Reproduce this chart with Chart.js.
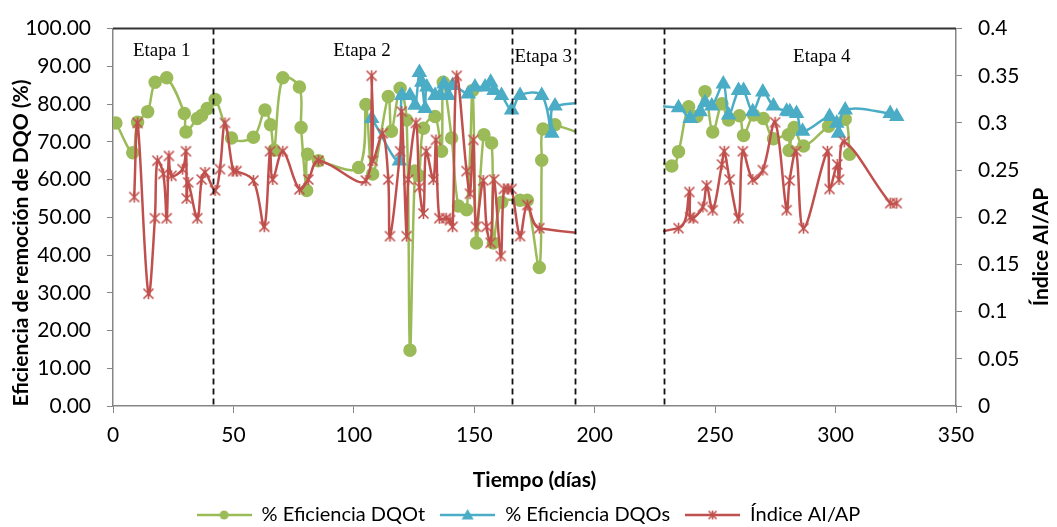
<!DOCTYPE html>
<html>
<head>
<meta charset="utf-8">
<script src="https://cdn.jsdelivr.net/npm/chart.js@4.4.1/dist/chart.umd.min.js"></script>
<style>
html, body { margin: 0; padding: 0; background: #fff; }
#wrap { width: 1057px; height: 527px; }
</style>
</head>
<body>
<div id="wrap"><canvas id="grafico" width="1057" height="527"></canvas></div>
<script>
// % Eficiencia DQOt (eje izquierdo)
var dqotDias = [1.2, 8.2, 10.2, 14.4, 17.5, 22.3, 29.6, 30.3, 35, 36.8, 39.1, 42.4, 49.2, 58.3, 63.1, 65.4, 66.9,
    70.5, 77.4, 78.1, 80.4, 80.8, 85.3, 102, 105, 107.8, 114.3, 115.6, 119.2, 121.9, 123.3, 125.4, 127, 128.9,
    133.7, 136.4, 137.1, 140.6, 143.4, 146.8, 149.3, 150.9, 154, 157.2, 157.9, 161.4, 169, 172, 177, 178, 178.5, 183.5,
    232, 234.8, 239, 242.4, 245.8, 249, 252.8, 255.6, 260.1, 261.8, 266, 270, 274.2, 280.4, 280.7, 282.8, 286.7,
    297.1, 304, 305.8];
var dqotVals = [75, 67.1, 75.2, 78, 85.8, 87, 77.5, 72.6, 76.2, 77, 78.8, 81.2, 71, 71.2, 78.4, 74.5, 67.8,
    87, 84.5, 73.8, 57.1, 66.7, 65, 63.2, 79.9, 61.5, 82, 72.8, 84.2, 75.8, 14.8, 62.3, 61, 73.6,
    76.7, 67.5, 85.8, 71, 53, 52, 83.6, 43.2, 71.9, 69.7, 43.2, 54, 54.5, 54.5, 36.7, 65.1, 73.4, 74.5,
    63.6, 67.4, 79.3, 76.7, 83.3, 72.6, 80.1, 75.8, 76.9, 71.7, 77.1, 76.2, 70.8, 71.9, 67.7, 73.8, 68.9,
    74.1, 76, 66.7];

// % Eficiencia DQOs (eje izquierdo)
var dqosDias = [107.4, 118.9, 119.9, 123.3, 125.4, 127.2, 128.2, 129.6, 130.3, 133.7, 135.8, 137.4, 139.2, 141,
    147.5, 150.3, 154.5, 156.8, 158.2, 161.3, 165.5, 169, 178, 182.2, 183.5,
    234.8, 239.6, 243.8, 245.8, 248.6, 253.4, 255.6, 259.7, 261.8, 265.6, 269.8, 274.2, 279.7, 281, 283.8, 286.3,
    297.5, 300.5, 301.2, 304, 322.7, 325.4];
var dqosVals = [76.2, 64.9, 82.3, 82.3, 79.7, 88.4, 85.8, 78.8, 84.5, 82.3, 82.3, 85.3, 82.3, 84.9,
    82.7, 84.5, 84.5, 85.8, 83.6, 82.3, 78.4, 82.3, 82.3, 72.3, 79.5,
    79, 76.2, 78, 80.4, 79.5, 85.3, 77.1, 83.6, 83.6, 78, 83.2, 79.5, 78.1, 78, 77.5, 72.8,
    76.7, 74.9, 72.3, 78.4, 77.5, 76.7];

// Indice AI/AP (eje derecho)
var aiapDias = [8.8, 10.2, 14.7, 17.4, 18.4, 20.9, 22.3, 23.2, 24.3, 28.9, 30.3, 30.6, 31.2, 35, 36.8, 38.2, 42.4,
    44.4, 46.5, 49.9, 51.3, 58.3, 62.8, 65.2, 66.3, 70.5, 77.4, 81.1, 85.3,
    105, 107.4, 107.8, 112, 114.3, 115, 119.2, 119.9, 121.9, 122.6, 125.8, 127.2, 128.9, 130, 133, 134.1, 135.5,
    138.3, 139.9, 141, 142.7, 146.8, 148.2, 149.6, 150.7, 153.7, 155.1, 156.8, 158.2, 161, 162.3, 164.1, 165.5,
    169, 172, 177,
    234.8, 239.3, 239.6, 240.9, 244.9, 246.5, 249, 252.8, 253.8, 256, 259.7, 261.5, 265.6, 269.8, 274.9,
    279.7, 280.9, 283.6, 286.7, 296.6, 297.5, 300.7, 301.4, 303.6, 322.7, 325.4];
var aiapVals = [0.2215, 0.30, 0.119, 0.199, 0.26, 0.246, 0.199, 0.265, 0.244, 0.251, 0.27, 0.22, 0.237, 0.199, 0.24, 0.2476, 0.2285,
    0.251, 0.30, 0.249, 0.249, 0.239, 0.19, 0.27, 0.24, 0.27, 0.2296, 0.24, 0.26,
    0.239, 0.35, 0.26, 0.289, 0.24, 0.18, 0.27, 0.312, 0.18, 0.24, 0.30, 0.232, 0.204, 0.27, 0.24, 0.282, 0.199,
    0.199, 0.197, 0.19, 0.35, 0.249, 0.225, 0.282, 0.19, 0.239, 0.19, 0.173, 0.24, 0.159, 0.23, 0.23, 0.23,
    0.18, 0.213, 0.1885,
    0.1885, 0.2268, 0.20, 0.199, 0.211, 0.2336, 0.2076, 0.256, 0.27, 0.24, 0.199, 0.27, 0.24, 0.25, 0.3007,
    0.2076, 0.239, 0.27, 0.1885, 0.27, 0.23, 0.256, 0.24, 0.28, 0.215, 0.215];

// limites de etapas (dias) y rotulos
var etapaLimites = [41.5, 165.7, 191.9, 228.8];
var etapaNombres = ["Etapa 1", "Etapa 2", "Etapa 3", "Etapa 4"];
var etapaPosX = [20.2, 103.4, 178.6, 294.3];
var etapaPosY = [94, 94, 92.5, 92.5];

var verde = "#9BBB59", azul = "#4BACC6", rojo = "#C0504D";
var fuente = "Lato";
var gris = "#868686";

function puntos(dias, vals) {
    var out = [];
    for (var i = 0; i < dias.length; i++) out.push({x: dias[i], y: vals[i]});
    return out;
}

// marcador asterisco de Excel (x con barra vertical)
function asterisco(tam, color) {
    var c = document.createElement("canvas");
    c.width = tam; c.height = tam;
    var g = c.getContext("2d");
    g.strokeStyle = color; g.lineWidth = 1.6;
    var m = 1.5, t = tam - 1.5;
    g.beginPath();
    g.moveTo(m, m); g.lineTo(t, t);
    g.moveTo(t, m); g.lineTo(m, t);
    g.moveTo(tam / 2, m - 0.5); g.lineTo(tam / 2, t + 0.5);
    g.stroke();
    return c;
}

function iconoLeyenda(color, tipo) {
    var c = document.createElement("canvas");
    c.width = 55; c.height = 16;
    var g = c.getContext("2d");
    g.strokeStyle = color; g.fillStyle = color; g.lineWidth = 2.5;
    g.beginPath(); g.moveTo(0, 8); g.lineTo(55, 8); g.stroke();
    if (tipo === "circulo") {
        g.beginPath(); g.arc(27.5, 8, 4.5, 0, Math.PI * 2); g.fill();
    } else if (tipo === "triangulo") {
        g.beginPath(); g.moveTo(27.5, 2); g.lineTo(33.5, 12.5); g.lineTo(21.5, 12.5); g.closePath(); g.fill();
    } else {
        g.drawImage(asterisco(11, color), 22, 2.5);
    }
    return c;
}

var marcaRoja = asterisco(13, rojo);

var etapasPlugin = {
    id: "etapas",
    afterDatasetsDraw: function(chart) {
        var ctx = chart.ctx, a = chart.chartArea;
        var sx = chart.scales.x, sy = chart.scales.y;
        ctx.save();
        // tramo sin datos entre etapa 3 y 4
        var x1 = sx.getPixelForValue(etapaLimites[2]), x2 = sx.getPixelForValue(etapaLimites[3]);
        ctx.fillStyle = "#fff";
        ctx.fillRect(x1 + 1, a.top + 1, x2 - x1 - 2, a.bottom - a.top - 2);
        // lineas de division
        ctx.strokeStyle = "#111";
        ctx.lineWidth = 1.8;
        ctx.setLineDash([6, 4]);
        etapaLimites.forEach(function(d) {
            var px = Math.round(sx.getPixelForValue(d)) + 0.5;
            ctx.beginPath(); ctx.moveTo(px, a.top); ctx.lineTo(px, a.bottom); ctx.stroke();
        });
        ctx.setLineDash([]);
        // borde superior
        ctx.strokeStyle = "#333";
        ctx.lineWidth = 2;
        ctx.beginPath(); ctx.moveTo(a.left, a.top); ctx.lineTo(a.right, a.top); ctx.stroke();
        // rotulos
        ctx.fillStyle = "#000";
        ctx.font = "19px 'Liberation Serif', 'Times New Roman', serif";
        ctx.textAlign = "center";
        ctx.textBaseline = "middle";
        etapaNombres.forEach(function(t, i) {
            ctx.fillText(t, sx.getPixelForValue(etapaPosX[i]), sy.getPixelForValue(etapaPosY[i]));
        });
        ctx.restore();
    },
    afterDraw: function(chart) {
        // titulos de los ejes verticales
        var ctx = chart.ctx;
        ctx.save();
        ctx.fillStyle = "#000";
        ctx.font = "bold 21px " + fuente;
        ctx.textAlign = "center";
        ctx.textBaseline = "middle";
        ctx.translate(21, 243);
        ctx.rotate(-Math.PI / 2);
        ctx.fillText("Eficiencia de remoción de DQO (%)", 0, 0);
        ctx.restore();
        ctx.save();
        ctx.fillStyle = "#000";
        ctx.font = "bold 21px " + fuente;
        ctx.textAlign = "center";
        ctx.textBaseline = "middle";
        ctx.translate(1041, 247);
        ctx.rotate(-Math.PI / 2);
        ctx.fillText("Índice AI/AP", 0, 0);
        ctx.restore();
    }
};

new Chart(document.getElementById("grafico"), {
    type: "line",
    data: {
        datasets: [{
            label: "% Eficiencia DQOt",
            data: puntos(dqotDias, dqotVals),
            yAxisID: "y",
            borderColor: verde,
            backgroundColor: verde,
            borderWidth: 2.5,
            pointStyle: "circle",
            pointRadius: 5.5,
            tension: 0.35,
            order: 3
        }, {
            label: "% Eficiencia DQOs",
            data: puntos(dqosDias, dqosVals),
            yAxisID: "y",
            borderColor: azul,
            backgroundColor: azul,
            borderWidth: 2.5,
            pointStyle: "triangle",
            pointRadius: 6.5,
            tension: 0.35,
            order: 2
        }, {
            label: "Índice AI/AP",
            data: puntos(aiapDias, aiapVals),
            yAxisID: "y1",
            borderColor: rojo,
            backgroundColor: rojo,
            borderWidth: 2.5,
            pointStyle: marcaRoja,
            pointRadius: 6,
            tension: 0.35,
            order: 1
        }]
    },
    options: {
        responsive: false,
        animation: false,
        layout: { padding: { top: 22, left: 0, right: 0, bottom: -8 } },
        plugins: {
            tooltip: { enabled: false },
            legend: {
                position: "bottom",
                labels: {
                    usePointStyle: true,
                    pointStyleWidth: 55,
                    padding: 15,
                    color: "#000",
                    font: { family: fuente, size: 20 },
                    generateLabels: function(chart) {
                        var tipos = ["circulo", "triangulo", "asterisco"];
                        return chart.data.datasets.map(function(ds, i) {
                            return {
                                text: ds.label,
                                fillStyle: ds.borderColor,
                                strokeStyle: ds.borderColor,
                                pointStyle: iconoLeyenda(ds.borderColor, tipos[i]),
                                datasetIndex: i,
                                hidden: false,
                                fontColor: "#000"
                            };
                        });
                    }
                }
            }
        },
        scales: {
            x: {
                type: "linear",
                min: 0, max: 350,
                afterFit: function(s) { s.height = 84; },
                ticks: { stepSize: 50, color: "#000", padding: 10, font: { family: fuente, size: 21 } },
                grid: { drawOnChartArea: false, tickLength: 7, color: gris },
                border: { color: gris, width: 1.5 },
                title: { display: true, text: "Tiempo (días)", color: "#000", padding: { top: 4, bottom: -3 },
                    font: { family: fuente, size: 21, weight: "bold" } }
            },
            y: {
                position: "left",
                min: 0, max: 100,
                afterFit: function(s) { s.width = 113; },
                ticks: { stepSize: 10, color: "#000", padding: 16, font: { family: fuente, size: 21 },
                    callback: function(v) { return v.toFixed(2); } },
                grid: { drawOnChartArea: false, tickLength: 6, color: gris },
                border: { color: gris, width: 1.5 },
                title: { display: false }
            },
            y1: {
                position: "right",
                min: 0, max: 0.4,
                afterFit: function(s) { s.width = 101; },
                ticks: { stepSize: 0.05, color: "#000", padding: 16, font: { family: fuente, size: 21 },
                    callback: function(v) { return String(+v.toFixed(2)); } },
                grid: { drawOnChartArea: false, tickLength: 6, color: gris },
                border: { color: gris, width: 1.5 },
                title: { display: false }
            }
        }
    },
    plugins: [etapasPlugin]
});
</script>
</body>
</html>
